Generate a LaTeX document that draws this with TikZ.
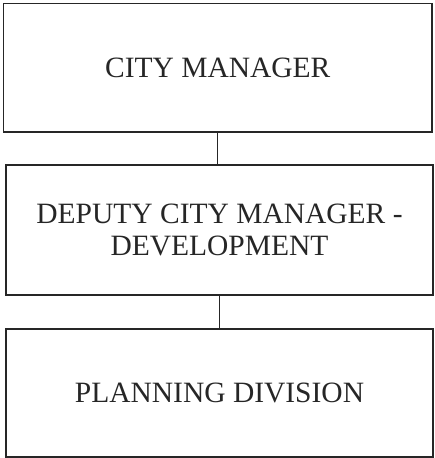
\documentclass[tikz,border=0pt]{standalone}
\usepackage{fontspec}
\setmainfont{Liberation Serif}
\definecolor{ink}{HTML}{262626}
\begin{document}
\begin{tikzpicture}[x=1pt,y=-1pt,
  orgbox/.style={draw=ink,line width=1.7pt,rectangle,inner sep=0pt,align=center,
    text=ink,font=\fontsize{29.5}{32}\selectfont},
  link/.style={draw=ink,line width=1.3pt}]
\useasboundingbox (0,0) rectangle (434,458);
\node[orgbox,minimum width=428.5pt,minimum height=128.5pt] (b1) at (217.75,67.75) {CITY MANAGER};
\node[orgbox,minimum width=427pt,minimum height=130pt] (b2) at (219.5,230) {DEPUTY CITY MANAGER -\\DEVELOPMENT};
\node[orgbox,minimum width=427pt,minimum height=128pt] (b3) at (219.5,393) {PLANNING DIVISION};
\draw[link] (b1.south) -- (b1.south |- b2.north);
\draw[link] (b2.south) -- (b2.south |- b3.north);
\end{tikzpicture}
\end{document}
